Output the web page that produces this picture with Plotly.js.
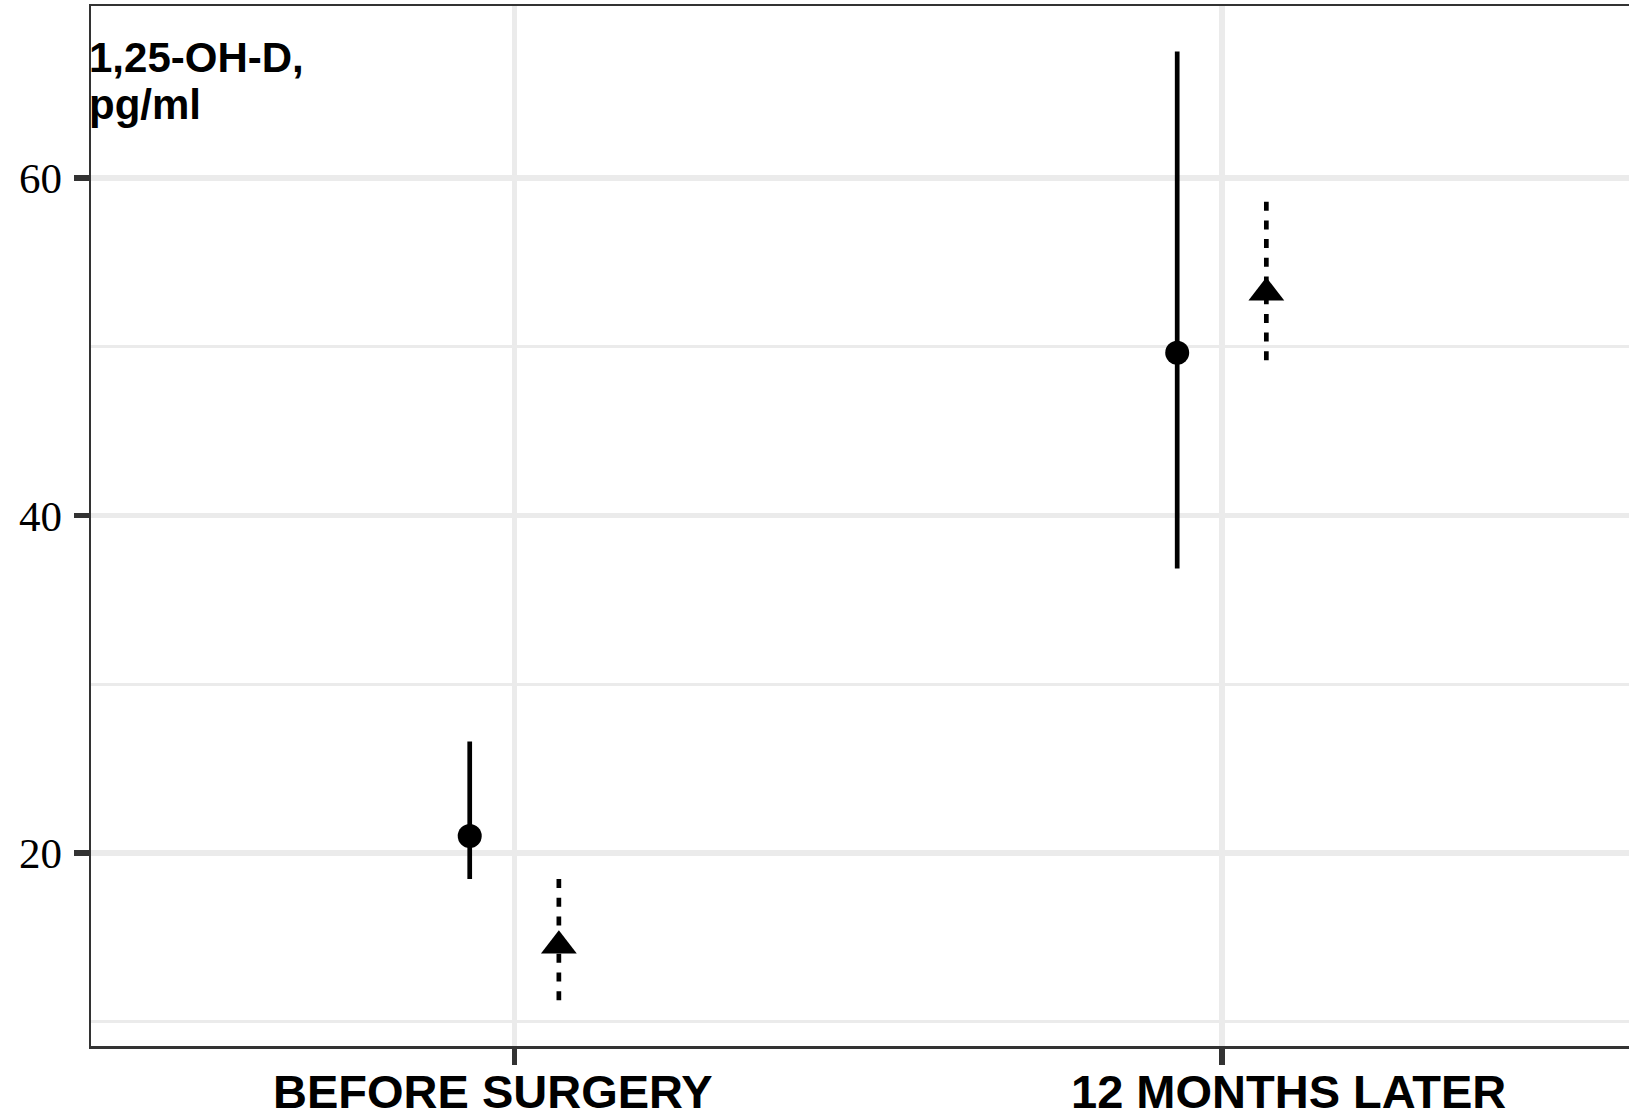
<!DOCTYPE html>
<html>
<head>
<meta charset="utf-8">
<script src="https://cdn.plot.ly/plotly-3.0.1.min.js"></script>
<style>
  html, body { margin: 0; padding: 0; background: #ffffff; }
  #chart { width: 1629px; height: 1117px; }
</style>
</head>
<body>
<div id="chart"></div>
<script>
// Time points on the x axis
const categories = ['BEFORE SURGERY', '12 MONTHS LATER'];

// Group drawn with filled circles and solid ranges (pg/ml)
const circleMean = [21.0, 49.65];
const circleLow  = [18.45, 36.85];
const circleHigh = [26.6, 67.5];

// Group drawn with filled triangles and dashed ranges (pg/ml)
const triangleMean = [14.5, 53.2];
const triangleLow  = [11.25, 49.05];
const triangleHigh = [18.45, 58.6];

// Axis ticks
const yMajorTicks = [20, 40, 60];
const yMinorTicks = [10, 30, 50];

// ---- drawing ----
const W = 1629, H = 1117;
const M = { l: 91, r: 0, t: 6, b: 71 };
const DODGE = 0.063;
const catPos = categories.map((_, i) => i + 1);

function rangeSegments(offset, lows, highs) {
  const x = [], y = [];
  catPos.forEach((p, i) => {
    x.push(p + offset, p + offset, null);
    y.push(highs[i], lows[i], null);
  });
  return { x, y };
}

const circleRanges = rangeSegments(-DODGE, circleLow, circleHigh);
const triangleRanges = rangeSegments(DODGE, triangleLow, triangleHigh);

const traces = [
  {
    type: 'scatter', mode: 'lines',
    x: circleRanges.x, y: circleRanges.y,
    line: { color: '#000000', width: 4.7 },
    hoverinfo: 'skip', showlegend: false
  },
  {
    type: 'scatter', mode: 'lines',
    x: triangleRanges.x, y: triangleRanges.y,
    line: { color: '#000000', width: 4.7, dash: '9px,9.7px' },
    hoverinfo: 'skip', showlegend: false
  },
  {
    type: 'scatter', mode: 'markers',
    x: catPos.map(p => p - DODGE), y: circleMean,
    marker: { symbol: 'circle', size: 24, color: '#000000', line: { width: 0 } },
    showlegend: false
  },
  {
    type: 'scatter', mode: 'markers',
    x: catPos.map(p => p + DODGE), y: triangleMean,
    marker: { symbol: 'triangle-up', size: 31, color: '#000000', line: { width: 0 } },
    showlegend: false
  }
];

const plotH = H - M.t - M.b;
const paperY = px => (H - M.b - px) / plotH;

const labelShift = [-0.030, 0.095];
const annotations = categories.map((c, i) => ({
  text: c, showarrow: false,
  xref: 'x', x: catPos[i] + labelShift[i],
  yref: 'paper', y: paperY(1091),
  xanchor: 'center', yanchor: 'middle',
  font: { family: 'Liberation Sans, Arial, sans-serif', size: 47, weight: 'bold', color: '#000000' }
}));

['1,25-OH-D,', 'pg/ml'].forEach((t, i) => {
  annotations.push({
    text: t, showarrow: false,
    xref: 'paper', x: 0, xanchor: 'left', xshift: -4,
    yref: 'paper', y: paperY(i === 0 ? 57.5 : 104.5), yanchor: 'middle',
    font: { family: 'Liberation Sans, Arial, sans-serif', size: 42, weight: 'bold', color: '#000000' }
  });
});

const layout = {
  width: W, height: H,
  margin: M,
  paper_bgcolor: '#ffffff',
  plot_bgcolor: '#ffffff',
  showlegend: false,
  xaxis: {
    range: [0.4017, 2.5756],
    tickmode: 'array', tickvals: catPos, showticklabels: false,
    ticks: 'outside', ticklen: 16, tickwidth: 5.5, tickcolor: '#333333',
    showgrid: true, gridcolor: '#EBEBEB', gridwidth: 5.5,
    showline: true, mirror: true, linecolor: '#333333', linewidth: 2.5,
    zeroline: false, fixedrange: true
  },
  yaxis: {
    range: [8.55, 70.2],
    tickmode: 'array', tickvals: yMajorTicks,
    ticks: 'outside', ticklen: 15, tickwidth: 5.5, tickcolor: '#333333',
    ticklabelstandoff: 3,
    tickfont: { family: 'Liberation Serif, Times New Roman, serif', size: 43, color: '#000000' },
    showgrid: true, gridcolor: '#EBEBEB', gridwidth: 5.5,
    minor: { tickmode: 'array', tickvals: yMinorTicks, showgrid: true, gridcolor: '#EBEBEB', gridwidth: 2.8 },
    showline: true, mirror: false, linecolor: '#333333', linewidth: 2.5,
    zeroline: false, fixedrange: true
  },
  annotations: annotations
};

Plotly.newPlot('chart', traces, layout, { displayModeBar: false, staticPlot: true });
</script>
</body>
</html>
